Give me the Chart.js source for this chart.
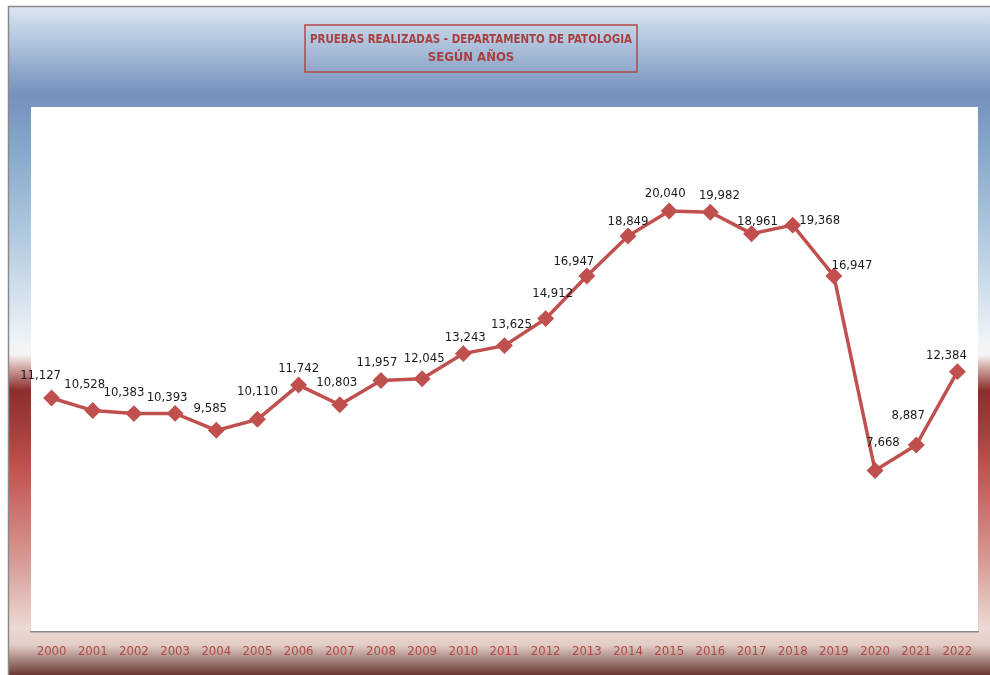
<!DOCTYPE html>
<html>
<head>
<meta charset="utf-8">
<script src="https://cdn.jsdelivr.net/npm/chart.js@4.4.1/dist/chart.umd.min.js"></script>
<style>
  body { margin: 0; background: #fff; }
  #wrap { width: 990px; height: 675px; }
</style>
</head>
<body>
<div id="wrap"><canvas id="grafico" width="990" height="675"></canvas></div>
<script>
const anios = ['2000', '2001', '2002', '2003', '2004', '2005', '2006', '2007', '2008', '2009', '2010', '2011',
  '2012', '2013', '2014', '2015', '2016', '2017', '2018', '2019', '2020', '2021', '2022'];
const pruebas = [11127, 10528, 10383, 10393, 9585, 10110, 11742, 10803, 11957, 12045, 13243, 13625,
  14912, 16947, 18849, 20040, 19982, 18961, 19368, 16947, 7668, 8887, 12384];
const titulo = ['PRUEBAS REALIZADAS - DEPARTAMENTO DE PATOLOGIA', 'SEGÚN AÑOS'];

// desplazamiento de cada etiqueta respecto a su punto (como lo coloca Excel)
const etiquetaDx = [-11, -8, -10, -8, -6, 0, 0, -3, -4, 2, 2, 7, 7, -13, 0, -4, 9, 6, 27, 18, 8, -8, -11];
const etiquetaDy = [-22, -26, -21, -16, -22, -28, -16, -22, -18, -20, -16, -21, -25, -14, -14, -17, -17, -12, -5, -10, -28, -29, -16];

const rojo = '#c0504d';
const fuente = '"DejaVu Sans Condensed", "Liberation Sans Narrow", "Open Sans", sans-serif';

const fondo = {
  id: 'fondo',
  beforeDraw(chart) {
    const c = chart.ctx;
    const a = chart.chartArea;
    c.save();
    const g = c.createLinearGradient(0, 6, 0, 675);
    const paradas = [[6, '#dde8f2'], [40, '#b3c6df'], [95, '#7590bd'], [150, '#86a8cb'], [250, '#b9cfe2'],
      [340, '#eef3f8'], [355, '#f5f4f5'], [366, '#d7b1ae'], [390, '#8b2f2c'], [420, '#9c3b38'],
      [465, '#c0504d'], [560, '#d79994'], [628, '#ebd9d3'], [645, '#e3cec7'], [675, '#6b3834']];
    paradas.forEach(p => g.addColorStop((p[0] - 6) / 669, p[1]));
    c.fillStyle = g;
    c.fillRect(9, 6, 981, 669);
    c.strokeStyle = '#8a8a8a';
    c.lineWidth = 1.5;
    c.beginPath();
    c.moveTo(8.5, 675);
    c.lineTo(8.5, 6.5);
    c.lineTo(990, 6.5);
    c.stroke();
    c.fillStyle = '#ffffff';
    c.fillRect(a.left, a.top, a.right - a.left, a.bottom - a.top);

    // titulo con recuadro
    c.strokeStyle = '#b0484a';
    c.lineWidth = 1.5;
    c.strokeRect(305, 25, 332, 47);
    c.fillStyle = '#a8403f';
    c.font = 'bold 13px ' + fuente;
    c.textAlign = 'center';
    c.textBaseline = 'middle';
    c.fillText(titulo[0], 471, 40, 322);
    c.fillText(titulo[1], 471, 58, 322);
    c.restore();
  },
  afterDatasetsDraw(chart) {
    const c = chart.ctx;
    const meta = chart.getDatasetMeta(0);
    c.save();
    c.fillStyle = '#1a1a1a';
    c.font = '13px ' + fuente;
    c.textAlign = 'center';
    c.textBaseline = 'middle';
    meta.data.forEach((pt, i) => {
      c.fillText(pruebas[i].toLocaleString('en-US'), pt.x + etiquetaDx[i], pt.y + etiquetaDy[i]);
    });
    c.restore();
  }
};

new Chart(document.getElementById('grafico'), {
  type: 'line',
  data: {
    labels: anios,
    datasets: [{
      label: 'Pruebas',
      data: pruebas,
      borderColor: rojo,
      backgroundColor: rojo,
      borderWidth: 3.5,
      pointStyle: 'rectRot',
      pointRadius: 6,
      pointBackgroundColor: rojo,
      pointBorderColor: rojo,
      tension: 0
    }]
  },
  options: {
    responsive: false,
    animation: false,
    layout: {
      padding: { left: 31, right: 12, top: 107, bottom: 4 }
    },
    scales: {
      y: {
        display: false,
        min: 0,
        max: 25000
      },
      x: {
        offset: true,
        grid: { display: false, drawTicks: false },
        border: { display: true, color: '#8c8c8c', width: 1.5 },
        ticks: {
          color: '#b04a48',
          padding: 12,
          font: { family: fuente, size: 13 },
          maxRotation: 0,
          autoSkip: false
        }
      }
    },
    plugins: {
      legend: { display: false },
      title: { display: false },
      tooltip: { enabled: false }
    }
  },
  plugins: [fondo]
});
</script>
</body>
</html>
